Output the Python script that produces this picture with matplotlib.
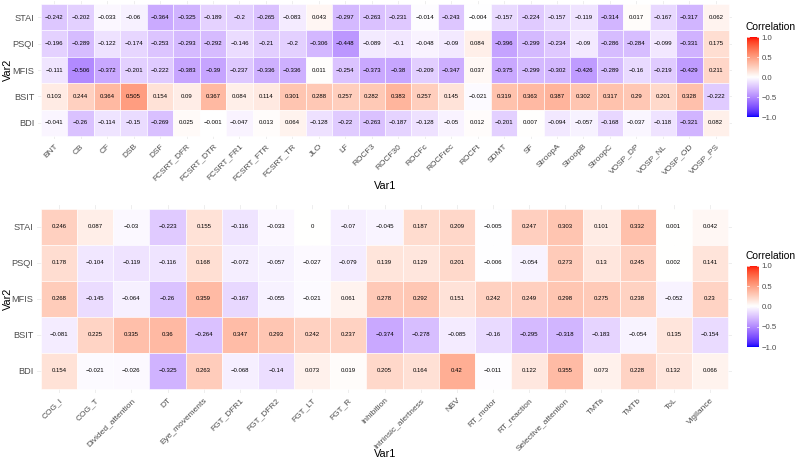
import numpy as np
import matplotlib
matplotlib.use("Agg")
import matplotlib.pyplot as plt
from matplotlib.colors import ListedColormap

plt.rcParams['font.family'] = ['Liberation Sans', 'DejaVu Sans']

rows = ["STAI", "PSQI", "MFIS", "BSIT", "BDI"]

top_cols = ["BNT", "CB", "CF", "DSB", "DSF", "FCSRT_DFR", "FCSRT_DTR", "FCSRT_FR1",
            "FCSRT_FTR", "FCSRT_TR", "JLO", "LF", "ROCF3", "ROCF30", "ROCFc", "ROCFrec",
            "ROCFt", "SDMT", "SF", "StroopA", "StroopB", "StroopC", "VOSP_DP", "VOSP_NL",
            "VOSP_OD", "VOSP_PS"]
top_STAI = [-0.242, -0.202, -0.033, -0.06, -0.364, -0.325, -0.189, -0.2, -0.265, -0.083, 0.043,
            -0.297, -0.263, -0.231, -0.014, -0.243, -0.004, -0.157, -0.224, -0.157, -0.119,
            -0.314, 0.017, -0.167, -0.317, 0.062]
top_PSQI = [-0.196, -0.289, -0.122, -0.174, -0.253, -0.293, -0.292, -0.146, -0.21, -0.2, -0.306,
            -0.448, -0.089, -0.1, -0.048, -0.09, 0.084, -0.396, -0.299, -0.234, -0.09, -0.286,
            -0.284, -0.099, -0.331, 0.175]
top_MFIS = [-0.111, -0.506, -0.372, -0.201, -0.222, -0.383, -0.39, -0.237, -0.336, -0.336, 0.011,
            -0.254, -0.373, -0.38, -0.209, -0.347, 0.037, -0.375, -0.299, -0.302, -0.426,
            -0.289, -0.16, -0.219, -0.429, 0.211]
top_BSIT = [0.103, 0.244, 0.364, 0.505, 0.154, 0.09, 0.367, 0.084, 0.114, 0.301, 0.288, 0.257,
            0.282, 0.383, 0.257, 0.145, -0.021, 0.319, 0.363, 0.387, 0.302, 0.317, 0.29, 0.201,
            0.328, -0.222]
top_BDI = [-0.041, -0.26, -0.114, -0.15, -0.269, 0.025, -0.001, -0.047, 0.013, 0.064, -0.128,
           -0.22, -0.263, -0.187, -0.128, -0.05, 0.012, -0.201, 0.007, -0.094, -0.057, -0.168,
           -0.037, -0.118, -0.321, 0.082]

bot_cols = ["COG_I", "COG_T", "Divided_attention", "DT", "Eye_movements", "FGT_DFR1",
            "FGT_DFR2", "FGT_LT", "FGT_R", "Inhibition", "Intrinsic_alertness", "NBV",
            "RT_motor", "RT_reaction", "Selective_attention", "TMTa", "TMTb", "ToL", "Vigilance"]
bot_STAI = [0.246, 0.087, -0.03, -0.223, 0.155, -0.116, -0.033, 0, -0.07, -0.045, 0.187, 0.209,
            -0.005, 0.247, 0.303, 0.101, 0.332, 0.001, 0.042]
bot_PSQI = [0.178, -0.104, -0.119, -0.116, 0.168, -0.072, -0.057, -0.027, -0.079, 0.139, 0.129,
            0.201, -0.006, -0.054, 0.273, 0.13, 0.245, 0.002, 0.141]
bot_MFIS = [0.268, -0.145, -0.064, -0.26, 0.359, -0.167, -0.055, -0.021, 0.061, 0.278, 0.292,
            0.151, 0.242, 0.249, 0.298, 0.275, 0.238, -0.052, 0.23]
bot_BSIT = [-0.081, 0.225, 0.335, 0.36, -0.264, 0.347, 0.293, 0.242, 0.237, -0.374, -0.278,
            -0.085, -0.16, -0.295, -0.318, -0.183, -0.054, 0.135, -0.154]
bot_BDI = [0.154, -0.021, -0.026, -0.325, 0.263, -0.068, -0.14, 0.073, 0.019, 0.205, 0.164, 0.42,
           -0.011, 0.122, 0.355, 0.073, 0.228, 0.132, 0.066]

colorbar_ticks = [1.0, 0.5, 0.0, -0.5, -1.0]


# ---- Lab-interpolated diverging palette (like ggplot's scale_fill_gradient2) ----
def srgb_to_lab(rgb):
    rgb = np.asarray(rgb, float)
    lin = np.where(rgb <= 0.04045, rgb / 12.92, ((rgb + 0.055) / 1.055) ** 2.4)
    M = np.array([[0.4124564, 0.3575761, 0.1804375],
                  [0.2126729, 0.7151522, 0.0721750],
                  [0.0193339, 0.1191920, 0.9503041]])
    xyz = lin @ M.T
    wp = np.array([0.95047, 1.0, 1.08883])
    t = xyz / wp
    f = np.where(t > (6 / 29) ** 3, np.cbrt(t), t / (3 * (6 / 29) ** 2) + 4 / 29)
    L = 116 * f[..., 1] - 16
    a = 500 * (f[..., 0] - f[..., 1])
    b = 200 * (f[..., 1] - f[..., 2])
    return np.stack([L, a, b], -1)


def lab_to_srgb(lab):
    lab = np.asarray(lab, float)
    fy = (lab[..., 0] + 16) / 116
    fx = fy + lab[..., 1] / 500
    fz = fy - lab[..., 2] / 200
    f = np.stack([fx, fy, fz], -1)
    d = 6 / 29
    t = np.where(f > d, f ** 3, 3 * d * d * (f - 4 / 29))
    wp = np.array([0.95047, 1.0, 1.08883])
    xyz = t * wp
    Minv = np.array([[3.2404542, -1.5371385, -0.4985314],
                     [-0.9692660, 1.8760108, 0.0415560],
                     [0.0556434, -0.2040259, 1.0572252]])
    lin = xyz @ Minv.T
    lin = np.clip(lin, 0, 1)
    rgb = np.where(lin <= 0.0031308, 12.92 * lin, 1.055 * lin ** (1 / 2.4) - 0.055)
    return np.clip(rgb, 0, 1)


blue = srgb_to_lab([0, 0, 1])
white = srgb_to_lab([1, 1, 1])
red = srgb_to_lab([1, 0, 0])
N = 512
vals = np.linspace(-1, 1, N)
labs = []
for v in vals:
    if v < 0:
        labs.append(white + (blue - white) * (-v))
    else:
        labs.append(white + (red - white) * v)
cmap = ListedColormap(lab_to_srgb(np.array(labs)))
norm = matplotlib.colors.Normalize(-1, 1)

W, H = 798, 459
fig = plt.figure(figsize=(W / 100, H / 100), dpi=100)

TICK_COLOR = "#4D4D4D"
GRID_COLOR = "#EBEBEB"


def draw_panel(cols, data, tile_left, tile_right, tile_top, tile_bottom,
               var1_y, var2_y, cbar_top, cbar_bottom):
    nc, nr = len(cols), len(rows)
    cw = (tile_right - tile_left) / nc
    rh = (tile_bottom - tile_top) / nr
    left = tile_left - 0.1 * cw
    right = tile_right + 0.1 * cw
    top = tile_top - 0.1 * rh
    bottom = tile_bottom + 0.1 * rh
    ax = fig.add_axes([left / W, 1 - bottom / H, (right - left) / W, (bottom - top) / H])
    ax.set_xlim(-0.6, nc - 0.4)
    ax.set_ylim(nr - 0.4, -0.6)
    for i in range(nc):
        ax.axvline(i, color=GRID_COLOR, lw=0.6, zorder=0)
    for j in range(nr):
        ax.axhline(j, color=GRID_COLOR, lw=0.6, zorder=0)
    M = np.array(data)
    for j in range(nr):
        for i in range(nc):
            v = M[j, i]
            ax.add_patch(plt.Rectangle((i - 0.5, j - 0.5), 1, 1, facecolor=cmap(norm(v)),
                                       edgecolor="white", lw=0.4, zorder=1))
            s = f"{v:g}".replace("-", "\u2212")
            ax.text(i, j, s, ha="center", va="center", fontsize=4.3, color="black", zorder=2)
    for sp in ax.spines.values():
        sp.set_visible(False)
    ax.set_xticks(range(nc))
    ax.set_xticklabels(cols, rotation=45, ha="right", rotation_mode="anchor",
                       fontsize=6.0, color=TICK_COLOR)
    ax.set_yticks(range(nr))
    ax.set_yticklabels(rows, fontsize=6.6, color=TICK_COLOR)
    ax.tick_params(length=0, pad=3)
    fig.text(385 / W, 1 - var1_y / H, "Var1", ha="center", va="center", fontsize=7.8)
    fig.text(8 / W, 1 - var2_y / H, "Var2", ha="center", va="center", fontsize=7.8,
             rotation=90)
    # colorbar
    cx0, cx1 = 747, 759
    cax = fig.add_axes([cx0 / W, 1 - cbar_bottom / H, (cx1 - cx0) / W,
                        (cbar_bottom - cbar_top) / H])
    grad = np.linspace(1, -1, 300).reshape(-1, 1)
    cax.imshow(grad, cmap=cmap, norm=norm, aspect="auto", extent=(0, 1, -1, 1))
    cax.set_xlim(0, 1)
    cax.set_ylim(-1, 1)
    for t in colorbar_ticks:
        cax.plot([0, 0.2], [t, t], color="white", lw=0.5)
        cax.plot([0.8, 1], [t, t], color="white", lw=0.5)
    cax.set_xticks([])
    cax.yaxis.tick_right()
    cax.set_yticks(colorbar_ticks)
    cax.set_yticklabels([f"{t:.1f}".replace("-", "\u2212") for t in colorbar_ticks],
                        fontsize=5.6, color=TICK_COLOR)
    cax.tick_params(length=0, pad=2)
    for sp in cax.spines.values():
        sp.set_visible(False)
    fig.text(745 / W, 1 - (cbar_top - 10) / H, "Correlation", ha="left", va="center",
             fontsize=7.4)


draw_panel(top_cols, [top_STAI, top_PSQI, top_MFIS, top_BSIT, top_BDI],
           41, 729, 4, 136, 186, 70, 37, 117)
draw_panel(bot_cols, [bot_STAI, bot_PSQI, bot_MFIS, bot_BSIT, bot_BDI],
           41, 728, 209, 389, 454, 299, 266, 347)

fig.savefig("out.png", dpi=100, facecolor="white")
